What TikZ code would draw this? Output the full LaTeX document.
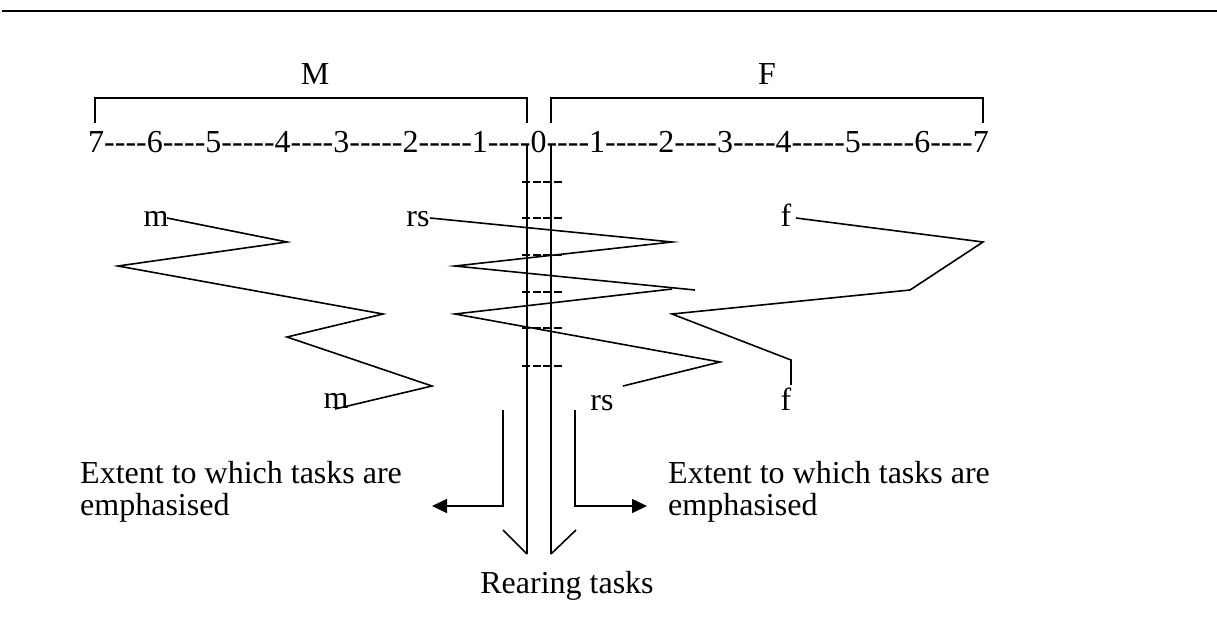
\documentclass[tikz,border=0pt]{standalone}
\usepackage{fontspec}
\setmainfont{Liberation Serif}
\usetikzlibrary{arrows.meta}
\newcommand\hy{\mbox{-}}
\begin{document}
\begin{tikzpicture}[x=1pt,y=-1pt,
  every node/.style={font=\fontsize{32}{32}\selectfont, inner sep=0pt},
  lab/.style={anchor=base},
  ln/.style={line width=1.6pt, line join=miter},
  dmark/.style={line width=1.6pt, dash pattern=on 8pt off 2.7pt},
  larrow/.style={ln, -{Triangle[length=15pt,width=14pt]}},
]
\useasboundingbox (0,0) rectangle (1217,630);
% top rule
\coordinate (r1) at (2,11);
\coordinate (r2) at (1217,11);
\draw[line width=2.2pt] (r1) -- (r2);
% group labels
\node[lab] (M) at (315,84) {M};
\node[lab] (F) at (767,84) {F};
% brackets
\coordinate (bl1) at (95,123); \coordinate (bl2) at (95,98);
\coordinate (bl3) at (527,98); \coordinate (bl4) at (527,123);
\coordinate (br1) at (551,123); \coordinate (br2) at (551,98);
\coordinate (br3) at (983,98); \coordinate (br4) at (983,123);
\draw[ln] (bl1) -- (bl2) -- (bl3) -- (bl4);
\draw[ln] (br1) -- (br2) -- (br3) -- (br4);
% scale
\node[anchor=base west] (scale) at (88,152)
 {7\hy\hy\hy\hy6\hy\hy\hy\hy5\hy\hy\hy\hy\hy4\hy\hy\hy\hy3\hy\hy\hy\hy\hy2\hy\hy\hy\hy\hy1\hy\hy\hy\hy0\hy\hy\hy\hy1\hy\hy\hy\hy\hy2\hy\hy\hy\hy3\hy\hy\hy\hy4\hy\hy\hy\hy\hy5\hy\hy\hy\hy\hy6\hy\hy\hy\hy7};
% central channel
\coordinate (cl1) at (527,144); \coordinate (cl2) at (527,554);
\coordinate (cr1) at (551,144); \coordinate (cr2) at (551,554);
\coordinate (hl) at (503,530); \coordinate (hr) at (576,530);
\draw[ln] (cl1) -- (cl2);
\draw[ln] (cr1) -- (cr2);
\draw[ln] (hl) -- (cl2);
\draw[ln] (hr) -- (cr2);
\foreach \yy in {182,218,255,292,328,366}
  \draw[dmark] (522,\yy) -- (562,\yy);
% zigzag labels
\node[lab] (m1) at (156,226) {m};
\node[lab] (m2) at (336,408) {m};
\node[lab] (rs1) at (418,226) {rs};
\node[lab] (rs2) at (602,410) {rs};
\node[lab] (f1) at (786,226) {f};
\node[lab] (f2) at (786,410) {f};
% m zigzag
\coordinate (ma) at (167,218); \coordinate (mb) at (287,242);
\coordinate (mc) at (118,266); \coordinate (md) at (383,314);
\coordinate (me) at (287,337); \coordinate (mf) at (432,386);
\coordinate (mg) at (335,409);
\draw[ln] (ma) -- (mb) -- (mc) -- (md) -- (me) -- (mf) -- (mg);
% rs zigzag
\coordinate (sa) at (430,218); \coordinate (sb) at (672,242);
\coordinate (sc) at (455,266); \coordinate (sd) at (695,290);
\coordinate (se) at (672,289); \coordinate (sf) at (455,314);
\coordinate (sg) at (720,362); \coordinate (sh) at (623,386);
\draw[ln] (sa) -- (sb) -- (sc) -- (sd);
\draw[ln] (se) -- (sf) -- (sg) -- (sh);
% f zigzag
\coordinate (fa) at (796,218); \coordinate (fb) at (983,242);
\coordinate (fc) at (910,290); \coordinate (fd) at (672,314);
\coordinate (fe) at (791,360); \coordinate (ff) at (791,385);
\draw[ln] (fa) -- (fb) -- (fc) -- (fd) -- (fe) -- (ff);
% side arrows
\coordinate (al1) at (503,410); \coordinate (al2) at (432,506);
\coordinate (ar1) at (575,410); \coordinate (ar2) at (647,506);
\draw[larrow] (al1) |- (al2);
\draw[larrow] (ar1) |- (ar2);
% texts
\node[anchor=base west] (extL) at (80,483)
 {\begin{tabular}[t]{@{}l@{}}Extent to which tasks are\\emphasised\end{tabular}};
\node[anchor=base west] (extR) at (668,483)
 {\begin{tabular}[t]{@{}l@{}}Extent to which tasks are\\emphasised\end{tabular}};
\node[lab] (rear) at (567,593) {Rearing tasks};
\end{tikzpicture}
\end{document}
